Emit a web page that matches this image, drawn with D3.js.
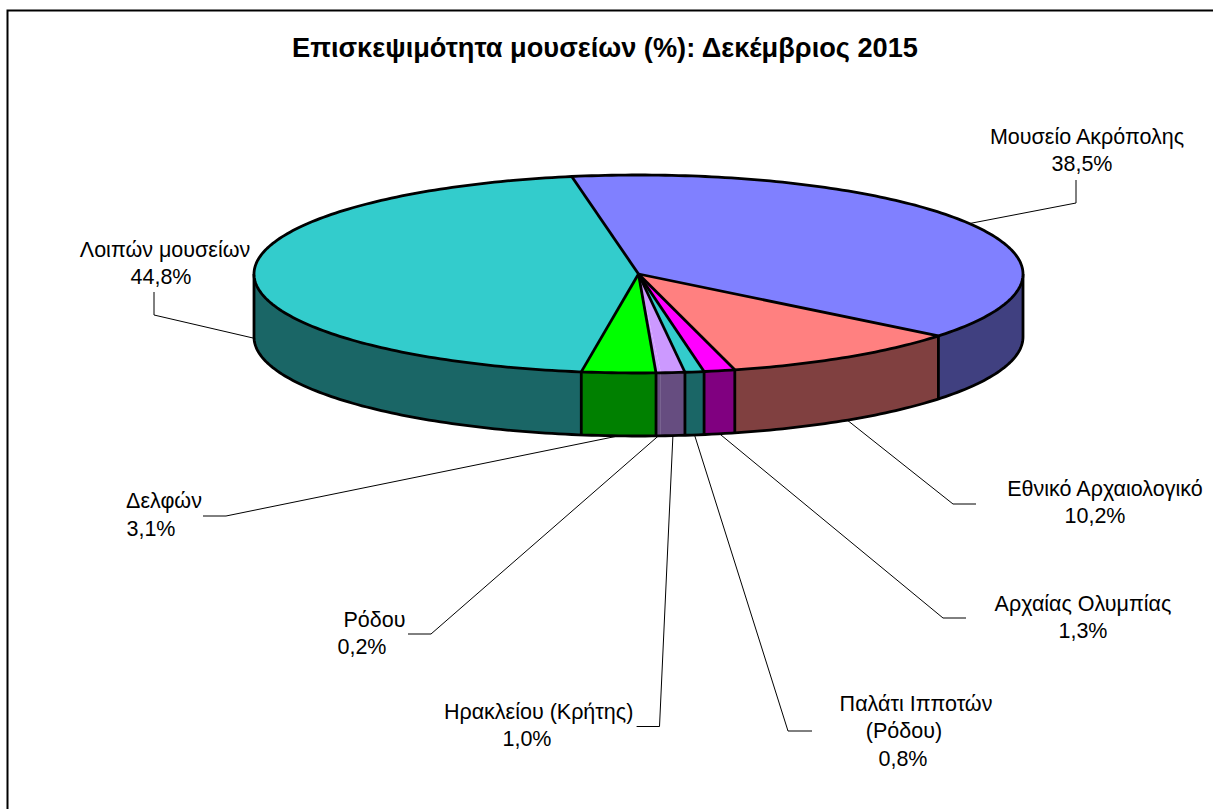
<!DOCTYPE html>
<html><head><meta charset="utf-8">
<script src="https://cdn.jsdelivr.net/npm/d3@7"></script>
<style>html,body{margin:0;padding:0;background:#fff}svg{display:block}text{font-family:"Liberation Sans",Arial,sans-serif;fill:#000}</style>
</head><body><div id="c"></div>
<script>
const titleText = "Επισκεψιμότητα μουσείων (%): Δεκέμβριος 2015";
const categories = ["Μουσείο Ακρόπολης","Εθνικό Αρχαιολογικό","Αρχαίας Ολυμπίας","Παλάτι Ιπποτών (Ρόδου)","Ηρακλείου (Κρήτης)","Ρόδου","Δελφών","Λοιπών μουσείων"];
const values = [38.5,10.2,1.3,0.8,1.0,0.2,3.1,44.8];
const valueLabels = ["38,5%","10,2%","1,3%","0,8%","1,0%","0,2%","3,1%","44,8%"];
const topColors = ["#8080ff","#ff8080","#ff00ff","#33cccc","#cc99ff","#cc99ff","#00ff00","#33cccc"];
const wallColors = ["#404080","#804040","#800080","#1a6666","#664d80","#664d80","#008000","#1a6666"];

// layout
const W=1213,H=809, cx=638.5, cy=274, rx=384.5, ry=99, depth=63;
const labelLayout = [
 {lines:[["Μουσείο Ακρόπολης",1087,144],["38,5%",1082,171]], elbow:[[1076,203],[1076,180]]},
 {lines:[["Εθνικό Αρχαιολογικό",1105,496],["10,2%",1095,523]], elbow:[[953,504],[976,504]]},
 {lines:[["Αρχαίας Ολυμπίας",1083,611],["1,3%",1083,638]], elbow:[[943,618],[966,618]]},
 {lines:[["Παλάτι Ιπποτών",916,711],["(Ρόδου)",904,738],["0,8%",903,766]], elbow:[[788,731],[812,731]]},
 {lines:[["Ηρακλείου (Κρήτης)",538.6,719],["1,0%",527,746]], elbow:[[659.5,726.5],[636.6,726.5]]},
 {lines:[["Ρόδου",374.5,627],["0,2%",362,654]], elbow:[[431,634],[408,634]]},
 {lines:[["Δελφών",164,508],["3,1%",151,536]], elbow:[[226,516],[203,516]]},
 {lines:[["Λοιπών μουσείων",165,257],["44,8%",161,284]], elbow:[[154,315],[154,292]]}
];

const svg=d3.select("#c").append("svg").attr("width",W).attr("height",H);
svg.append("path").attr("d",`M7.5,${H}V10.5H${W}`).attr("fill","none").attr("stroke","#000").attr("stroke-width",2);
svg.append("text").attr("x",605).attr("y",57).attr("text-anchor","middle")
  .attr("font-size",27.2).attr("font-weight","bold").text(titleText);

const toRad=d=>d*Math.PI/180;
const pie=d3.pie().sort(null).startAngle(toRad(-10)).endAngle(toRad(350));
const arcs=pie(values);
const X=d3.scaleLinear().domain([-1,1]).range([cx-rx,cx+rx]);
const Y=d3.scaleLinear().domain([-1,1]).range([cy-ry,cy+ry]);
const px=a=>X(Math.sin(a)), py=a=>Y(-Math.cos(a));
const line=d3.line();
const sweep=(a0,a1,dy)=>{const n=Math.max(2,Math.ceil(Math.abs(a1-a0)/toRad(1)));
  return d3.range(n+1).map(i=>{const a=a0+(a1-a0)*i/n;return [px(a),py(a)+dy];});};

// walls (front half only)
const g=svg.append("g").attr("stroke","#000").attr("stroke-width",2.8).attr("stroke-linejoin","round");
arcs.forEach((d,i)=>{
  const a0=Math.max(d.startAngle,toRad(90)), a1=Math.min(d.endAngle,toRad(270));
  if(a1<=a0) return;
  const pts=sweep(a0,a1,0).concat(sweep(a1,a0,depth));
  g.append("path").attr("d",line(pts)+"Z").attr("fill",wallColors[i]).attr("stroke","none");
});
g.append("path").attr("fill","none").attr("d",line(sweep(toRad(90),toRad(270),depth)));
[toRad(90),toRad(270)].forEach(a=>g.append("path").attr("d",line([[px(a),py(a)],[px(a),py(a)+depth]])));
arcs.forEach((d,i)=>{
  if(i===4) return; // the thin 0,2% slice merges with its neighbour in the picture
  const a=d.endAngle; if(a<toRad(90)||a>toRad(270)) return;
  g.append("path").attr("d",line([[px(a),py(a)],[px(a),py(a)+depth]]));
});
// top faces
const c=[X(0),Y(0)];
arcs.forEach((d,i)=>{
  g.append("path").attr("d",line([c].concat(sweep(d.startAngle,d.endAngle,0)))+"Z").attr("fill",topColors[i]).attr("stroke","none");
});
g.append("path").attr("fill","none").attr("d",line(sweep(toRad(0),toRad(360),0))+"Z");
arcs.forEach((d,i)=>{
  if(i===4) return;
  g.append("path").attr("d",line([c,[px(d.endAngle),py(d.endAngle)]]));
});

// leaders and labels
arcs.forEach((d,i)=>{
  const L=labelLayout[i], m=(d.startAngle+d.endAngle)/2;
  const wrap=((m%(2*Math.PI))+2*Math.PI)%(2*Math.PI);
  const front=wrap>=toRad(90)&&wrap<=toRad(270);
  const start=[px(m),py(m)+(front?depth:0)];
  svg.append("path").attr("fill","none").attr("stroke","#000").attr("stroke-width",1)
    .attr("d",line([start].concat(L.elbow)));
  L.lines.forEach(t=>svg.append("text").attr("x",t[1]).attr("y",t[2]).attr("text-anchor","middle").attr("font-size",21.5).text(t[0]));
});
</script></body></html>
